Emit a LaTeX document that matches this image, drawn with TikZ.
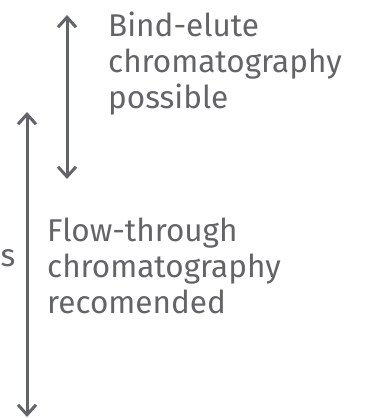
\documentclass[tikz,border=0pt]{standalone}
\usepackage{fontspec}
\setmainfont{Fira Sans}
\usetikzlibrary{arrows.meta, positioning}
\usepackage{xcolor}
\definecolor{ink}{HTML}{626468}

\begin{document}
\begin{tikzpicture}[x=1pt, y=1pt,
      span/.style={draw=ink, line width=3pt, {Straight Barb[width=18pt, length=10pt]}-{Straight Barb[width=18pt, length=10pt]}},
      note/.style={text=ink, align=left, anchor=north west, inner sep=0pt, font=\fontsize{31.5}{36}\selectfont}
    ]
      \useasboundingbox (0,0) rectangle (373,418);
      \coordinate (bindtop) at (67,403);
      \coordinate (bindbot) at (67,239);
      \coordinate (flowtop) at (27,306);
      \coordinate (flowbot) at (27,1);
      \draw[span] (bindtop) -- (bindbot);
      \draw[span] (flowtop) -- (flowbot);
      \node[note] (bind) at (108,406) {Bind-elute\\chromatography\\possible};
      \node[note] (flow) at (47,200) {Flow-through\\chromatography\\recomended};
      \node[note, anchor=base east] (cut) at (15.5,151) {s};
    \end{tikzpicture}
\end{document}
